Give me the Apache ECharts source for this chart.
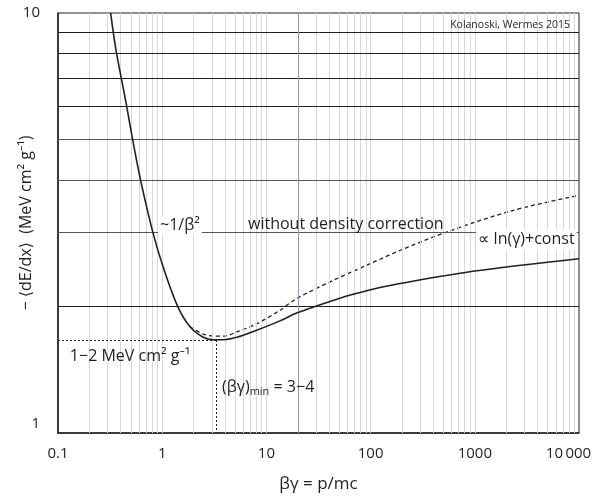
<!DOCTYPE html>
<html>
<head>
<meta charset="utf-8">
<script src="https://cdn.jsdelivr.net/npm/echarts@6/dist/echarts.min.js"></script>
<style>
html,body{margin:0;padding:0;background:#fff;}
#chart{width:593px;height:499px;}
</style>
</head>
<body>
<div id="chart"></div>
<script>
// ---- data ----
const xTickLabels = ['0.1', '1', '10', '100', '1000', '10\u2009000'];
const yTickLabels = ['1', '10'];

const solidX = [0.32, 0.339, 0.365, 0.405, 0.456, 0.52, 0.62, 0.815, 1.04, 1.41, 1.85, 2.48, 3.09, 3.86, 5.19, 8.07, 13.5, 19.5, 29.3, 64, 123, 191, 1000, 10000];
const solidY = [10, 9, 8, 7, 6, 5, 4, 3, 2.45, 2.0, 1.79, 1.69, 1.667, 1.667, 1.69, 1.757, 1.849, 1.93, 2.0, 2.13, 2.22, 2.27, 2.43, 2.60];

const dashedX = [1.85, 2.48, 3.09, 3.86, 5.19, 8.07, 13.5, 19.5, 44, 92, 191, 537, 2340, 10000];
const dashedY = [1.79, 1.72, 1.70, 1.70, 1.74, 1.82, 1.96, 2.09, 2.31, 2.51, 2.72, 3.01, 3.39, 3.68];

const horizontalGridValues = [2, 3, 4, 5, 6, 7, 8, 9];
const decades = [0.1, 1, 10, 100, 1000];
const multipliers = [2, 3, 4, 5, 6, 7, 8, 9, 10];
const referenceLineX = 20;
const minBetaGamma = 3.28;
const minLoss = 1.665;

const ink = '#231f20';
const font = '"Open Sans", "Noto Sans", "DejaVu Sans", sans-serif';

const verticalGridValues = [];
decades.forEach(d => multipliers.forEach(m => {
  const v = +(d * m).toPrecision(6);
  if (v < 10000) verticalGridValues.push(v);
}));

const chart = echarts.init(document.getElementById('chart'), null, {renderer: 'canvas'});

function annot(coord, text, label) {
  return {coord: coord, value: text, label: Object.assign({formatter: text}, label)};
}

const option = {
  backgroundColor: '#fff',
  animation: false,
  textStyle: {fontFamily: font, color: ink},
  grid: {left: 58, right: 14, top: 13, bottom: 66, containLabel: false, outerBoundsMode: 'none', show: true, borderColor: ink, borderWidth: 1, backgroundColor: 'transparent'},
  xAxis: {
    type: 'log', logBase: 10, min: 0.1, max: 10000,
    name: 'βγ = p/mc', nameLocation: 'middle', nameGap: 43, nameMoveOverlap: false,
    nameTextStyle: {fontSize: 17, color: ink, fontFamily: font},
    axisLine: {show: true, lineStyle: {color: ink, width: 1.5}},
    axisTick: {show: false},
    splitLine: {show: false},
    axisLabel: {
      fontSize: 15, color: ink, fontFamily: font, margin: 13,
      formatter: function (v) {
        const i = Math.round(Math.log10(v)) + 1;
        const t = xTickLabels[i];
        return i === xTickLabels.length - 1 ? '{r|' + t + '}' : t;
      },
      rich: {r: {fontSize: 15, color: ink, fontFamily: font, padding: [0, 21, 0, 0]}}
    }
  },
  yAxis: {
    type: 'log', logBase: 10, min: 1, max: 10,
    name: '− \u27E8dE/dx\u27E9  (MeV cm² g⁻¹)', nameLocation: 'middle', nameGap: 24, nameMoveOverlap: false,
    nameTextStyle: {fontSize: 16, color: ink, fontFamily: font},
    axisLine: {show: true, lineStyle: {color: ink, width: 1.5}},
    axisTick: {show: false},
    splitLine: {show: false},
    axisLabel: {
      fontSize: 15, color: ink, fontFamily: font, margin: 18,
      formatter: function (v) {
        const i = Math.round(Math.log10(v));
        return i === 0 ? '{low|' + yTickLabels[0] + '}' : yTickLabels[i];
      },
      rich: {low: {fontSize: 15, color: ink, fontFamily: font, padding: [0, 0, 18, 0]}}
    }
  },
  series: [
    {
      type: 'line', data: [], z: 1, silent: true,
      markLine: {
        silent: true, symbol: ['none', 'none'], animation: false,
        label: {show: false},
        lineStyle: {color: '#d8d8d8', width: 1, type: 'solid'},
        data: verticalGridValues.map(v => ({xAxis: v}))
      }
    },
    {
      type: 'line', data: [], z: 2, silent: true,
      markLine: {
        silent: true, symbol: ['none', 'none'], animation: false,
        label: {show: false},
        lineStyle: {color: ink, width: 1, type: 'solid'},
        data: horizontalGridValues.map(v => ({yAxis: v, lineStyle: {color: (v >= 3 && v <= 5) ? '#555' : ink}}))
          .concat([{xAxis: referenceLineX, lineStyle: {color: '#9494cc', width: 1}}])
          .concat([
            [{coord: [0.1, minLoss]}, {coord: [minBetaGamma, minLoss]}],
            [{coord: [minBetaGamma, minLoss]}, {coord: [minBetaGamma, 1]}]
          ].map(p => {p[0].lineStyle = {color: ink, width: 1, type: [2, 2]}; return p;}))
      }
    },
    {
      name: 'without density correction', type: 'line', z: 4,
      data: dashedX.map((x, i) => [x, dashedY[i]]),
      smooth: 0.3, symbol: 'none', silent: true,
      lineStyle: {color: ink, width: 1.3, type: [4, 3]}
    },
    {
      name: 'with density correction', type: 'line', z: 5,
      data: solidX.map((x, i) => [x, solidY[i]]),
      smooth: 0.3, symbol: 'none', silent: true,
      lineStyle: {color: ink, width: 1.6},
      markPoint: {
        silent: true, symbol: 'circle', symbolSize: 0, animation: false,
        label: {show: true, position: 'inside', color: ink, fontFamily: font, fontSize: 15, align: 'left', verticalAlign: 'middle'},
        data: [
          annot([0.911, 3.12], '~1/β²', {backgroundColor: '#fff', padding: [1, 2], fontSize: 16}),
          annot([6.66, 3.14], 'without density correction', {fontSize: 16}),
          annot([1027, 2.884], '∝ ln(γ)+const', {backgroundColor: '#fff', padding: [2, 2], fontSize: 16}),
          annot([0.130, 1.523], '1−2 MeV cm² g⁻¹', {fontSize: 16}),
          annot([3.75, 1.285], '(βγ){sub|min} = 3−4', {fontSize: 16, rich: {sub: {fontSize: 11, color: ink, fontFamily: font, padding: [9, 0, 0, 0]}}}),
          annot([8195, 9.35], 'Kolanoski, Wermes 2015', {fontSize: 10.5, align: 'right'})
        ]
      }
    }
  ]
};
chart.setOption(option);
</script>
</body>
</html>
